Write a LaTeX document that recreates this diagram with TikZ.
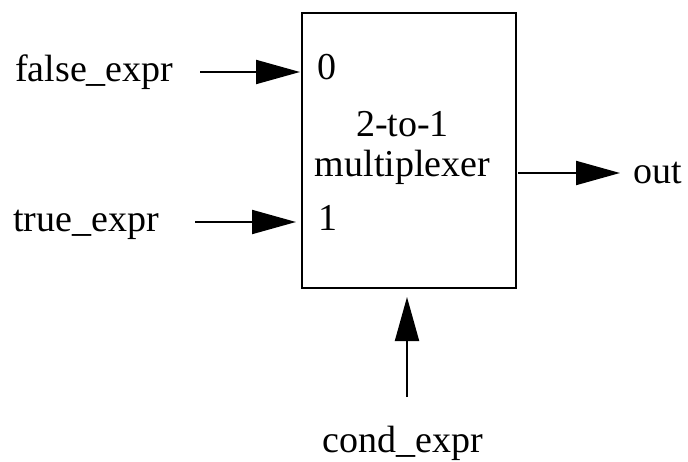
\documentclass[tikz,border=0pt]{standalone}
\usepackage{fontspec}
\setmainfont{Liberation Serif}
\usetikzlibrary{arrows.meta}
\begin{document}
\begin{tikzpicture}[x=1pt,y=-1pt,
  lbl/.style={inner sep=0pt, font=\fontsize{38}{40}\selectfont},
  arr/.style={line width=2pt, -{Triangle[length=44pt,width=24pt]}},
  muxbox/.style={draw, line width=2pt, inner sep=0pt}]
\useasboundingbox (0,0) rectangle (688,462);
\node[muxbox, minimum width=214pt, minimum height=275pt] (mux) at (409,150.5) {};
\node[lbl, anchor=base] (t1) at (402.5,137) {2-to-1};
\node[lbl, anchor=base] (t2) at (402.5,177) {multiplexer};
\node[lbl, anchor=base west] (in0) at (317,80) {0};
\node[lbl, anchor=base west] (in1) at (318,231) {1};
\node[lbl, anchor=base west] (fe) at (15,82) {false\_expr};
\node[lbl, anchor=base west] (te) at (13,232) {true\_expr};
\node[lbl, anchor=base west] (out) at (633,184) {out};
\node[lbl, anchor=base] (ce) at (403,452) {cond\_expr};
\coordinate (fs) at (200,72);
\coordinate (ft) at (300,72);
\coordinate (ts) at (195,222);
\coordinate (tt) at (296,222);
\coordinate (os) at (518,173);
\coordinate (ot) at (620,173);
\coordinate (cs) at (407,397);
\coordinate (ct) at (407,297);
\draw[arr] (fs) -- (ft);
\draw[arr] (ts) -- (tt);
\draw[arr] (os) -- (ot);
\draw[arr] (cs) -- (ct);
\end{tikzpicture}
\end{document}
